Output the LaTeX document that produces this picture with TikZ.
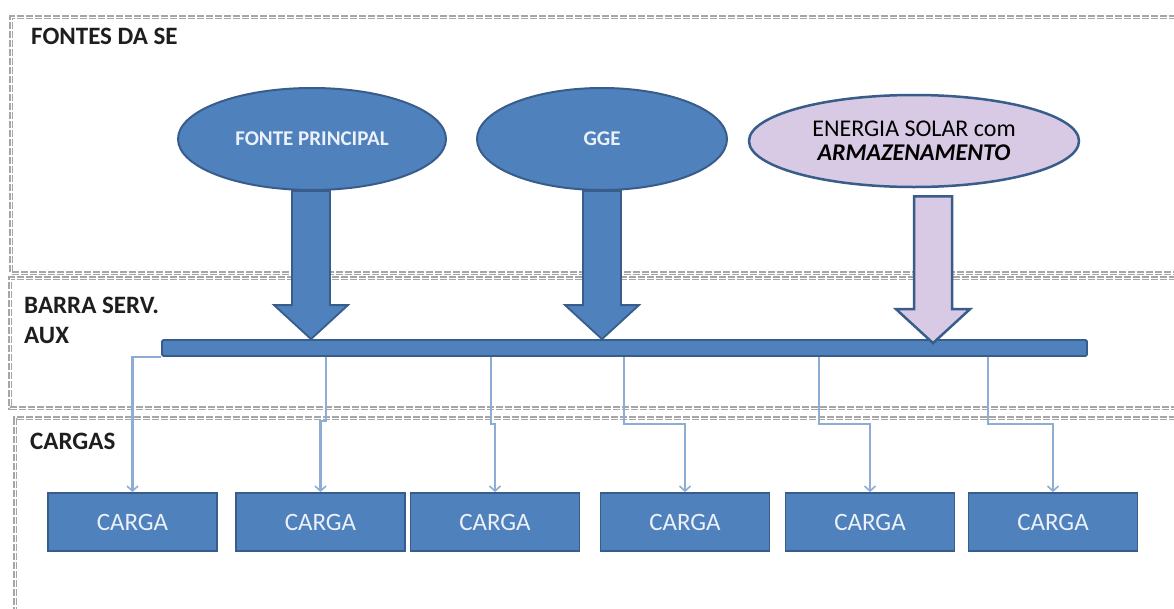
\documentclass[tikz,border=0pt]{standalone}
\usepackage{fontspec}
\setmainfont{Carlito}
\usetikzlibrary{shapes.geometric,arrows.meta,calc}
\definecolor{obfill}{RGB}{79,129,189}
\definecolor{obline}{RGB}{56,93,138}
\definecolor{lav}{RGB}{216,202,228}
\definecolor{feedc}{RGB}{141,173,215}
\definecolor{labc}{RGB}{30,30,30}
\definecolor{boxtxt}{RGB}{236,241,249}
\newcommand\blockarr[3]{%
  \draw[#3] let \p1=(#1), \p2=(#2) in
    (\x1-19pt,\y1) -- (\x1-19pt,\y2+34pt) -- (\x1-37pt,\y2+34pt) -- (\x1,\y2)
    -- (\x1+37pt,\y2+34pt) -- (\x1+19pt,\y2+34pt) -- (\x1+19pt,\y1) -- cycle;}
\begin{document}
\begin{tikzpicture}[x=1pt,y=-1pt,
  panel/.style={preaction={draw=gray!70,line width=3.5pt,dash pattern=on 7pt off 2pt},
    draw=white,line width=1pt,dash pattern=on 7pt off 2pt},
  src/.style={ellipse,draw=obline,line width=2pt,fill=obfill,inner sep=0pt,
    text=boxtxt,font=\bfseries\fontsize{21}{24}\selectfont},
  solar/.style={src,fill=lav,text=black,line width=2.5pt,align=center,
    font=\fontsize{24}{24}\selectfont},
  barrow/.style={fill=obfill,draw=obline,line width=1.8pt,line join=miter},
  larrow/.style={fill=lav,draw=obline,line width=2.5pt,line join=miter},
  busbar/.style={rectangle,fill=obfill,draw=obline,line width=1.8pt,rounded corners=1.5pt,
    minimum width=925pt,minimum height=16pt,inner sep=0pt},
  load/.style={rectangle,fill=obfill,draw=obline,line width=1.8pt,minimum width=169pt,
    minimum height=58pt,inner sep=0pt,text=boxtxt,font=\fontsize{25}{28}\selectfont},
  feed/.style={draw=feedc,line width=2.2pt,-{Straight Barb[length=5pt,width=11pt,line width=1.6pt]}},
  lab/.style={text=labc,font=\bfseries\fontsize{25}{28}\selectfont,inner sep=0pt,anchor=base west}
]
\useasboundingbox (0,0) rectangle (1174,608);
\fill[white] (0,0) rectangle (1174,608);
% panels
\draw[panel] (1185,17) -- (11,17) -- (11,273) -- (1185,273);
\draw[panel] (1185,278) -- (10,278) -- (10,408) -- (1185,408);
\draw[panel] (1185,418) -- (15,418) -- (15,615);
% labels
\node[lab] (l1) at (31,44) {FONTES DA SE};
\node[lab] (l2) at (24,313) {BARRA SERV.};
\node[lab] (l3) at (24,343) {AUX};
\node[lab] (l4) at (30,449) {CARGAS};
% sources
\node[src,minimum width=268pt,minimum height=102pt] (s1) at (312,139) {FONTE PRINCIPAL};
\node[src,minimum width=250pt,minimum height=102pt] (s2) at (602,139) {GGE};
\node[solar,minimum width=330pt,minimum height=92pt] (s3) at (914,141)
  {ENERGIA SOLAR com\\\textbf{\textit{ARMAZENAMENTO}}};
% bus
\node[busbar] (bus) at (624.5,348) {};
% block arrows
\coordinate (a1) at ([xshift=-1pt]s1.south);
\coordinate (a2) at (s2.south);
\coordinate (a3) at ([xshift=19pt,yshift=-8pt]s3.south);
\coordinate (t1) at (a1 |- bus.north);
\coordinate (t2) at (a2 |- bus.north);
\coordinate (t3) at ([yshift=-4pt]a3 |- bus.north);
\blockarr{a1}{t1}{barrow}
\blockarr{a2}{t2}{barrow}
\blockarr{a3}{t3}{larrow}
% loads
\node[load] (c1) at (132.5,522) {CARGA};
\node[load] (c2) at (320.5,522) {CARGA};
\node[load] (c3) at (495,522) {CARGA};
\node[load] (c4) at (685,522) {CARGA};
\node[load] (c5) at (870,522) {CARGA};
\node[load] (c6) at (1053,522) {CARGA};
% feeders
\draw[feed] (bus.south west) -| (c1.north);
\draw[feed] ([xshift=165pt]bus.south west) |- ([yshift=71pt]c2.north) -- (c2.north);
\draw[feed] ([xshift=330pt]bus.south west) |- ([yshift=68pt]c3.north) -- (c3.north);
\draw[feed] ([xshift=463pt]bus.south west) |- ([yshift=68pt]c4.north) -- (c4.north);
\draw[feed] ([xshift=658pt]bus.south west) |- ([yshift=68pt]c5.north) -- (c5.north);
\draw[feed] ([xshift=827pt]bus.south west) |- ([yshift=68pt]c6.north) -- (c6.north);
\end{tikzpicture}
\end{document}
